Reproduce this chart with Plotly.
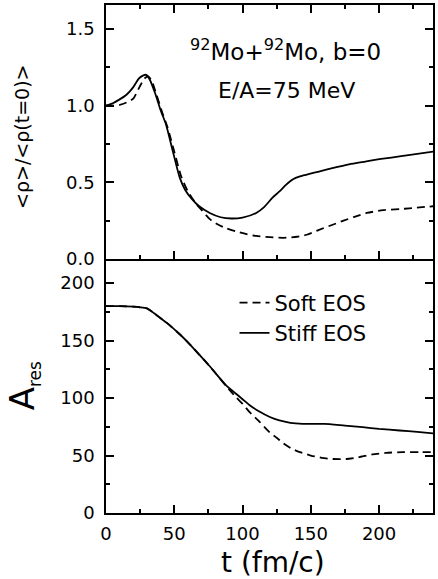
import plotly.graph_objects as go
from plotly.subplots import make_subplots

# ---- data: top panel  <rho>/<rho(t=0)> ----
t_rho_stiff = [0, 5, 10, 15, 20, 24, 27, 29.5, 32, 36, 40, 44, 49, 54, 58, 63, 68, 76, 84, 92,
               100, 110, 116, 122, 127, 132, 137, 142, 149, 156, 165, 178, 190, 203, 215, 228, 240]
rho_stiff = [1.00, 1.015, 1.04, 1.07, 1.12, 1.175, 1.195, 1.20, 1.17, 1.08, 0.97, 0.875, 0.70, 0.53, 0.45,
             0.39, 0.345, 0.30, 0.272, 0.264, 0.27, 0.30, 0.34, 0.40, 0.44, 0.485, 0.52, 0.538, 0.555,
             0.57, 0.59, 0.617, 0.635, 0.654, 0.668, 0.685, 0.70]

t_rho_soft = [0, 5, 10, 15, 20, 24.5, 28, 31, 33.5, 37, 41, 45, 50, 55, 60, 66, 70, 76, 82, 88, 95,
              103, 110, 120, 130, 140, 147, 156, 165, 174, 182, 191, 203, 215, 222, 240]
rho_soft = [1.00, 1.00, 1.004, 1.02, 1.045, 1.12, 1.175, 1.19, 1.16, 1.07, 0.96, 0.86, 0.70, 0.54, 0.44,
            0.36, 0.32, 0.26, 0.225, 0.20, 0.18, 0.162, 0.15, 0.142, 0.138, 0.145, 0.158, 0.19, 0.22,
            0.25, 0.275, 0.30, 0.318, 0.325, 0.33, 0.344]

# ---- data: bottom panel  A_res ----
t_a_stiff = [0, 10, 20, 25, 30, 35, 40, 45, 54, 60, 68.5, 75, 80, 88, 95, 100, 105, 112, 120, 127,
             135, 144, 152, 160, 175, 188, 200, 215, 228, 240]
a_stiff = [180, 180, 179.5, 179, 178, 174, 169.5, 165, 155.5, 148.5, 137.5, 129, 122, 111, 104, 99, 94,
           88.5, 83.5, 80.5, 78.5, 77.6, 77.5, 77.5, 76, 74.7, 73.2, 71.8, 70.5, 69.3]

t_a_soft = [0, 10, 20, 25, 30, 35, 40, 45, 54, 60, 68.5, 75, 80, 88, 95, 100, 105, 112, 120, 125,
            130, 136, 142, 150, 158, 166, 176, 185, 195, 205, 217, 230, 240]
a_soft = [180, 180, 179.5, 179, 178, 174, 169.5, 165, 155.5, 148.5, 137.5, 129, 122, 110.5, 101, 95, 88,
          80, 70, 65.5, 60.5, 56, 53, 50, 48, 47, 47, 48.5, 51, 52.3, 53, 53, 53]

series_names = ["Soft EOS", "Stiff EOS"]

x_ticks = [0, 50, 100, 150, 200]
rho_ticks = [0.0, 0.5, 1.0, 1.5]
a_ticks = [0, 50, 100, 150, 200]

FONT = "DejaVu Sans"
dash_style = "8px,5px"
LW = 1.5
X_RANGE = [0, 239.5]

fig = make_subplots(rows=2, cols=1, shared_xaxes=True, vertical_spacing=0)

fig.add_trace(go.Scatter(x=t_rho_soft, y=rho_soft, mode="lines", line=dict(color="black", width=1.8, dash=dash_style, shape="spline", smoothing=0.6),
                         showlegend=False), row=1, col=1)
fig.add_trace(go.Scatter(x=t_rho_stiff, y=rho_stiff, mode="lines", line=dict(color="black", width=1.8, shape="spline", smoothing=0.6),
                         showlegend=False), row=1, col=1)
fig.add_trace(go.Scatter(x=t_a_soft, y=a_soft, mode="lines", name=series_names[0],
                         line=dict(color="black", width=1.8, dash=dash_style, shape="spline", smoothing=0.6)), row=2, col=1)
fig.add_trace(go.Scatter(x=t_a_stiff, y=a_stiff, mode="lines", name=series_names[1],
                         line=dict(color="black", width=1.8, shape="spline", smoothing=0.6)), row=2, col=1)

minor_x = dict(ticks="inside", ticklen=4, tickwidth=1.5, tickcolor="black", dtick=25, tick0=0, showgrid=False)
common = dict(showline=True, linecolor="black", linewidth=LW, mirror="ticks", ticks="inside", ticklen=8,
              tickwidth=1.5, tickcolor="black", showgrid=False, zeroline=False,
              tickfont=dict(family=FONT, size=18, color="black"))

# top panel x axis: line at bottom + top border, ticks inside
fig.update_xaxes(range=X_RANGE, tickvals=x_ticks, showticklabels=False, minor=minor_x, row=1, col=1, **common)
# bottom panel x axis: bottom line only (middle line is drawn by the top panel)
common_b = dict(common, mirror=False)
fig.update_xaxes(range=X_RANGE, tickvals=x_ticks, ticklabelstandoff=4, minor=minor_x, row=2, col=1, **common_b)
# extra overlaying axis: downward ticks along the middle line for the bottom panel
fig.update_layout(xaxis3=dict(overlaying="x2", anchor="y2", side="top", matches="x", range=X_RANGE,
                              tickvals=x_ticks, ticks="inside", ticklen=8, tickwidth=1.5, tickcolor="black",
                              showline=False, showticklabels=False, showgrid=False, zeroline=False,
                              minor=minor_x))

fig.update_yaxes(range=[0, 1.655], tickvals=rho_ticks, tickformat=".1f", ticklabelstandoff=6,
                 minor=dict(ticks="inside", ticklen=4, tickwidth=1.5, tickcolor="black", dtick=0.25, tick0=0, showgrid=False),
                 row=1, col=1, **common)
fig.update_yaxes(range=[0, 221], tickvals=a_ticks, ticklabelstandoff=6,
                 minor=dict(ticks="inside", ticklen=4, tickwidth=1.5, tickcolor="black", dtick=25, tick0=0, showgrid=False),
                 row=2, col=1, **common)

annos = [
    dict(text="<sup>92</sup>Mo+<sup>92</sup>Mo, b=0", x=0.55, y=0.912, font=dict(size=23)),
    dict(text="E/A=75 MeV", x=0.553, y=0.831, font=dict(size=22)),
    dict(text="&lt;ρ&gt;/&lt;ρ(t=0)&gt;", x=-0.2586, y=0.741, textangle=-90, font=dict(size=19)),
    dict(text="A<sub><span style='font-size:17px'>res</span></sub>", x=-0.252, y=0.2506, textangle=-90, font=dict(size=34)),
    dict(text="t (fm/c)", x=0.512, y=-0.097, font=dict(size=28)),
]
for a in annos:
    a.setdefault("xref", "paper")
    a.setdefault("yref", "paper")
    a.setdefault("showarrow", False)
    a.setdefault("xanchor", "center")
    a.setdefault("yanchor", "middle")
    a["font"] = dict(family=FONT, color="black", **a["font"])
    fig.add_annotation(**a)

fig.update_layout(
    width=438, height=579,
    margin=dict(l=106, r=5, t=3, b=66),
    paper_bgcolor="white", plot_bgcolor="white",
    showlegend=True,
    legend=dict(x=0.393, y=0.384, xanchor="left", yanchor="middle", bgcolor="rgba(0,0,0,0)",
                font=dict(family=FONT, size=21, color="black"), itemwidth=30, tracegroupgap=0),
)

fig.write_html("out.html")
